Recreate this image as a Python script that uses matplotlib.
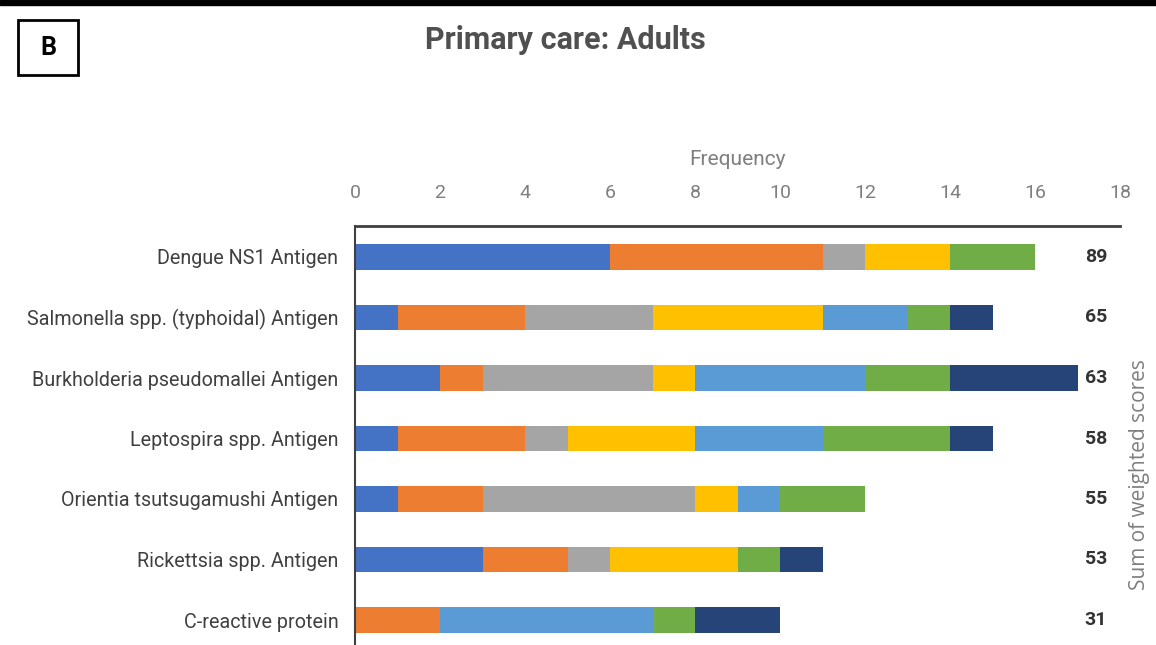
import matplotlib
matplotlib.use('Agg')
from matplotlib import pyplot as plt
from matplotlib.patches import Rectangle
import numpy as np

tests = ['Dengue NS1 Antigen', 'Salmonella spp. (typhoidal) Antigen', 'Burkholderia pseudomallei Antigen',
         'Leptospira spp. Antigen', 'Orientia tsutsugamushi Antigen', 'Rickettsia spp. Antigen', 'C-reactive protein']
scores = [89, 65, 63, 58, 55, 53, 31]
# frequency of each rank, one list per segment colour
seg1 = [6, 1, 2, 1, 1, 3, 0]
seg2 = [5, 3, 1, 3, 2, 2, 2]
seg3 = [1, 3, 4, 1, 5, 1, 0]
seg4 = [2, 4, 1, 3, 1, 3, 0]
seg5 = [0, 2, 4, 3, 1, 0, 5]
seg6 = [2, 1, 2, 3, 2, 1, 1]
seg7 = [0, 1, 3, 1, 0, 1, 2]
segments = [seg1, seg2, seg3, seg4, seg5, seg6, seg7]
colors = ['#4472C4', '#ED7D31', '#A5A5A5', '#FFC000', '#5B9BD5', '#70AD47', '#264478']

narrow = ['Roboto', 'DejaVu Sans']

fig = plt.figure(figsize=(11.56, 6.45), dpi=100)
ax = fig.add_axes([355/1156, 0, (1120-355)/1156, 1 - 226/645])

y = np.arange(len(tests))
left = np.zeros(len(tests))
for seg, c in zip(segments, colors):
    ax.barh(y, seg, left=left, height=0.42, color=c)
    left += np.array(seg)

ax.set_xlim(0, 18)
ax.set_ylim(6 + 25/60.5, -31/60.5)
ax.xaxis.tick_top()
ax.xaxis.set_label_position('top')
ax.set_xticks(range(0, 19, 2))
ax.tick_params(axis='x', length=0, pad=17, labelcolor='#7f7f7f', labelsize=14)
ax.tick_params(axis='y', length=0, pad=12, labelcolor='#404040', labelsize=14.2)
for lab in ax.get_xticklabels() + ax.get_yticklabels():
    lab.set_family(narrow)
ax.set_yticks(y)
ax.set_yticklabels(tests)
ax.set_xlabel('Frequency', family=narrow, fontsize=15, color='#7f7f7f', labelpad=14)
for s in ['right', 'bottom']:
    ax.spines[s].set_visible(False)
ax.spines['top'].set_color('#404040')
ax.spines['top'].set_linewidth(2)
ax.spines['left'].set_color('#404040')
ax.spines['left'].set_linewidth(1.5)

for yi, s in zip(y, scores):
    ax.text(0.9686, yi, str(s), transform=ax.get_yaxis_transform(), ha='center', va='center',
            fontsize=14, fontweight='bold', color='#333333', family=narrow)
ax.text(1.026, 0.406, 'Sum of weighted scores', transform=ax.transAxes, rotation=90,
        ha='center', va='center', fontsize=15, color='#7f7f7f', family=['Open Sans', 'DejaVu Sans'])

fig.text(565/1156, 1 - 40/645, 'Primary care: Adults', ha='center', va='center',
         fontsize=22, fontweight='bold', color='#505050', family=narrow)
fig.patches.append(Rectangle((18/1156, 1 - 75/645), 60/1156, 55/645, transform=fig.transFigure,
                             fill=False, edgecolor='black', linewidth=2))
fig.text(48/1156, 1 - 48/645, 'B', ha='center', va='center', fontsize=18, fontweight='bold', family=narrow)
fig.patches.append(Rectangle((0, 1 - 5/645), 1, 5/645, transform=fig.transFigure,
                             color='black'))

plt.savefig('out.png', dpi=100)
